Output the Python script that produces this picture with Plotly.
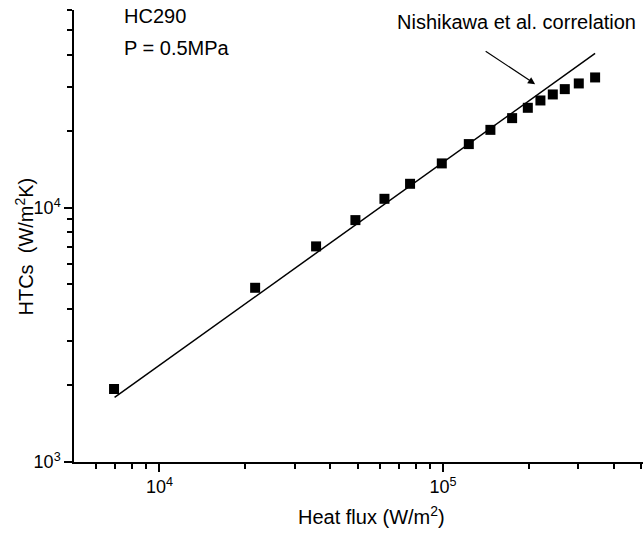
import numpy as np
import plotly.graph_objects as go

# Experimental data (HC290, P = 0.5 MPa)
heat_flux = [6920, 21750, 35670, 49080, 62120, 76480, 98950, 123200, 146800,
             175100, 198900, 220300, 243600, 268500, 300800, 343400]
htc = [1937, 4846, 7050, 8945, 10850, 12430, 14950, 17810, 20260,
       22530, 24740, 26440, 27920, 29300, 30850, 32570]

# Nishikawa et al. correlation (straight line on log-log axes)
corr_flux = [6950, 343400]
corr_htc = [1796, 40470]

# Axis ticks
x_major = [1e4, 1e5]
x_major_text = ["10<sup>4</sup>", "10<sup>5</sup>"]
x_minor = [6e3, 7e3, 8e3, 9e3, 2e4, 3e4, 4e4, 5e4, 6e4, 7e4, 8e4, 9e4,
           2e5, 3e5, 4e5, 5e5]
y_major = [1e3, 1e4]
y_major_text = ["10<sup>3</sup>", "10<sup>4</sup>"]
y_minor = [2e3, 3e3, 4e3, 5e3, 6e3, 7e3, 8e3, 9e3, 2e4, 3e4, 4e4, 5e4, 6e4]

W, H = 643, 534
L, R, T, B = 74, 0, 10, 72
pw, ph = W - L - R, H - T - B

def px(xp):
    return (xp - L) / pw

def py(yp):
    return (H - B - yp) / ph

FONT = "Liberation Sans, Arial, Helvetica, sans-serif"

fig = go.Figure()
fig.add_trace(go.Scatter(x=corr_flux, y=corr_htc, mode="lines",
                         line=dict(color="black", width=1.5),
                         showlegend=False, hoverinfo="skip"))
fig.add_trace(go.Scatter(x=heat_flux, y=htc, mode="markers",
                         marker=dict(symbol="square", size=10, color="black",
                                     line=dict(width=0)),
                         showlegend=False))

axis_common = dict(type="log", showgrid=False, zeroline=False,
                   showline=True, linecolor="black", linewidth=1.5,
                   ticks="outside", ticklen=8, tickwidth=1.5, tickcolor="black",
                   tickmode="array", mirror=False,
                   tickfont=dict(family=FONT, size=18, color="black"))

fig.update_layout(
    width=W, height=H,
    margin=dict(l=L, r=R, t=T, b=B),
    paper_bgcolor="white", plot_bgcolor="white",
    font=dict(family=FONT, color="black"),
    xaxis=dict(**axis_common, range=[np.log10(5000), np.log10(5000) + pw / 283.7],
               tickvals=x_major, ticktext=x_major_text,
               minor=dict(tickmode="array", tickvals=x_minor, ticks="outside",
                          ticklen=5, tickwidth=1.5, tickcolor="black")),
    yaxis=dict(**axis_common, range=[3, np.log10(6e4)],
               tickvals=y_major, ticktext=y_major_text,
               minor=dict(tickmode="array", tickvals=y_minor, ticks="outside",
                          ticklen=5, tickwidth=1.5, tickcolor="black")),
)

annos = [
    dict(text="HC290", x=px(122), y=py(16), xanchor="left", yanchor="middle"),
    dict(text="P = 0.5MPa", x=px(122), y=py(48), xanchor="left", yanchor="middle"),
    dict(text="Nishikawa et al. correlation", x=px(395), y=py(22),
         xanchor="left", yanchor="middle"),
    dict(text="Heat flux (W/m<sup>2</sup>)", x=px(371.5), y=py(515),
         xanchor="center", yanchor="middle"),
    dict(text="HTCs&nbsp; (W/m<sup>2</sup>K)", x=px(24), y=py(246.5),
         xanchor="center", yanchor="middle", textangle=-90),
]
for a in annos:
    fig.add_annotation(xref="paper", yref="paper", showarrow=False,
                       font=dict(family=FONT, size=20, color="black"), **a)

# Arrow pointing to the correlation line
fig.add_annotation(xref="x", yref="y", x=np.log10(211100), y=np.log10(30650),
                   ax=-51, ay=-34, text="", showarrow=True,
                   arrowhead=2, arrowsize=1.2, arrowwidth=1.2, arrowcolor="black")

fig.write_html("out.html",
               config={"displayModeBar": False},
               post_script="document.body.style.margin='0';"
                           "document.body.style.overflow='hidden';")
